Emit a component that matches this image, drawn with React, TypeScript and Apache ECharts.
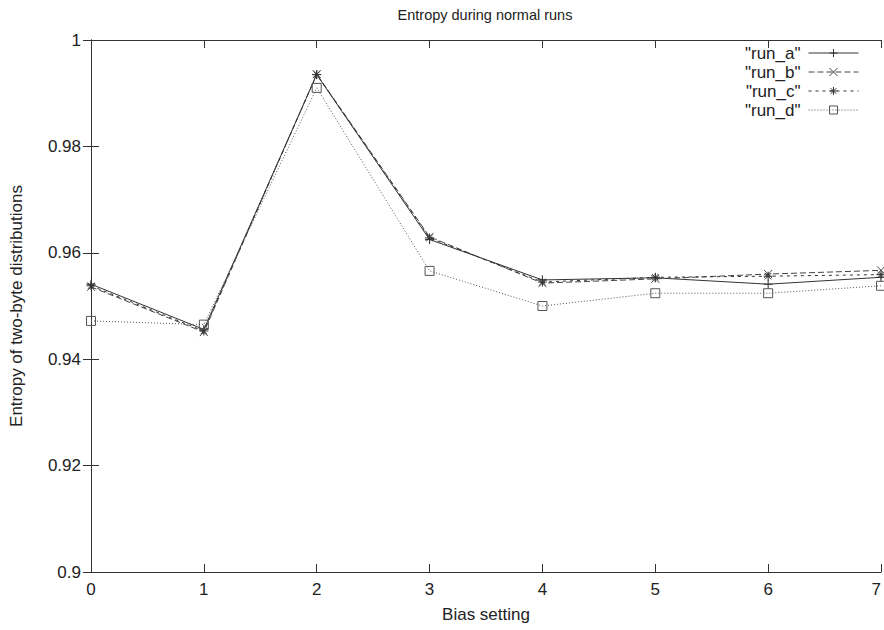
import React, { useEffect, useRef } from "react";
import * as echarts from "echarts";

const biasSettings = [0, 1, 2, 3, 4, 5, 6, 7];
const runA = [0.9541, 0.9456, 0.9935, 0.9625, 0.9549, 0.9553, 0.9541, 0.9554];
const runB = [0.9536, 0.9451, 0.9936, 0.963, 0.9543, 0.9551, 0.956, 0.9567];
const runC = [0.9538, 0.9453, 0.9935, 0.9628, 0.9545, 0.9554, 0.9556, 0.9559];
const runD = [0.9472, 0.9465, 0.991, 0.9566, 0.95, 0.9524, 0.9524, 0.9538];
const seriesNames = ['"run_a"', '"run_b"', '"run_c"', '"run_d"'];

const FONT = "Liberation Sans, Arial, sans-serif";
const TXT = "#222";
const AX = "#333";

const PLUS = "path://M5 0L5 10M0 5L10 5";
const CROSS = "path://M0 0L10 10M0 10L10 0";
const STAR = "path://M5 0L5 10M0 5L10 5M1.5 1.5L8.5 8.5M1.5 8.5L8.5 1.5";
const SQUARE = "path://M0 0L10 0L10 10L0 10Z";

function pairs(vals: number[]) {
  return biasSettings.map((x, i) => [x, vals[i]]);
}

export default function App() {
  const ref = useRef<HTMLDivElement>(null);
  useEffect(() => {
    if (!ref.current) return;
    document.body.style.margin = "0";
    const chart = echarts.init(ref.current, null, { renderer: "svg" });
    const mk = (
      name: string,
      vals: number[],
      symbol: string,
      size: number,
      color: string,
      type: any
    ) => ({
      name,
      type: "line",
      data: pairs(vals),
      symbol,
      symbolSize: size,
      symbolKeepAspect: true,
      showSymbol: true,
      lineStyle: { color, width: 1, type },
      itemStyle: { color: "rgba(0,0,0,0)", borderColor: color, borderWidth: 1 },
      emphasis: { disabled: true },
      z: 3,
    });
    const tickCommon = {
      show: true,
      inside: true,
      length: 8,
      lineStyle: { color: AX, width: 1 },
    };
    chart.setOption({
      animation: false,
      backgroundColor: "#fff",
      title: {
        text: "Entropy during normal runs",
        left: 480,
        textAlign: "center",
        top: 2,
        textStyle: { fontFamily: FONT, fontSize: 14.5, fontWeight: "normal", color: TXT },
      },
      legend: {
        orient: "vertical",
        right: 25,
        top: 44,
        align: "right",
        itemWidth: 50,
        itemHeight: 10,
        itemGap: 1,
        padding: 0,
        data: seriesNames,
        lineStyle: { width: 1 },
        itemStyle: { borderWidth: 1, color: "rgba(0,0,0,0)" },
        textStyle: { fontFamily: FONT, fontSize: 17, color: TXT, lineHeight: 18, padding: [0, 3, 0, 0] },
      },
      grid: { left: 91, top: 40, right: 2, bottom: 58, containLabel: false },
      xAxis: [
        {
          type: "value",
          min: 0,
          max: 7,
          interval: 1,
          name: "Bias setting",
          nameLocation: "middle",
          nameGap: 34,
          nameTextStyle: { fontFamily: FONT, fontSize: 17, color: TXT },
          axisLine: { show: true, lineStyle: { color: AX, width: 1 } },
          axisTick: tickCommon,
          axisLabel: { fontFamily: FONT, fontSize: 17, color: TXT, margin: 9, alignMaxLabel: "right" },
          splitLine: { show: false },
        },
        {
          type: "value",
          position: "top",
          min: 0,
          max: 7,
          interval: 1,
          axisLine: { show: true, lineStyle: { color: AX, width: 1 } },
          axisTick: tickCommon,
          axisLabel: { show: false },
          splitLine: { show: false },
        },
      ],
      yAxis: [
        {
          type: "value",
          min: 0.9,
          max: 1,
          interval: 0.02,
          name: "Entropy of two-byte distributions",
          nameLocation: "middle",
          nameGap: 66,
          nameTextStyle: { fontFamily: FONT, fontSize: 17, color: TXT },
          axisLine: { show: true, lineStyle: { color: AX, width: 1 } },
          axisTick: tickCommon,
          axisLabel: {
            fontFamily: FONT,
            fontSize: 17,
            color: TXT,
            margin: 10,
            formatter: (v: number) => String(Number(v.toFixed(2))),
          },
          splitLine: { show: false },
        },
        {
          type: "value",
          position: "right",
          min: 0.9,
          max: 1,
          interval: 0.02,
          axisLine: { show: true, lineStyle: { color: AX, width: 1 } },
          axisTick: tickCommon,
          axisLabel: { show: false },
          splitLine: { show: false },
        },
      ],
      series: [
        mk(seriesNames[0], runA, PLUS, 9, "#333", "solid"),
        mk(seriesNames[1], runB, CROSS, 8, "#444", [6, 3]),
        mk(seriesNames[2], runC, STAR, 9, "#333", [3, 4]),
        mk(seriesNames[3], runD, SQUARE, 9, "#555", [1, 2]),
      ],
    });
    return () => chart.dispose();
  }, []);
  return <div ref={ref} style={{ width: 884, height: 630 }} />;
}
